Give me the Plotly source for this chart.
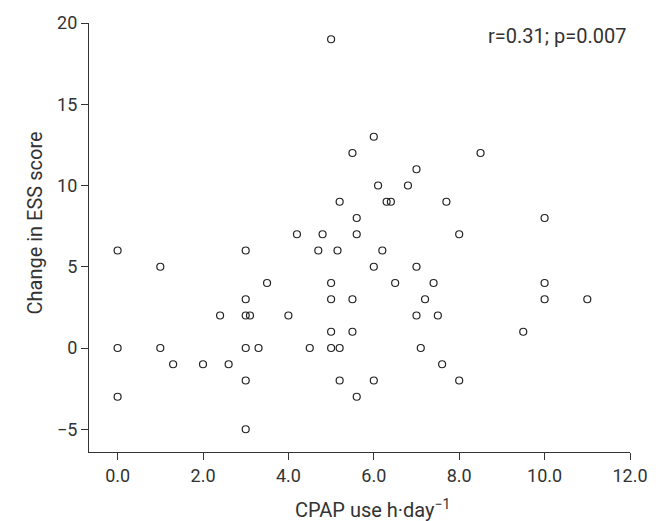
import plotly.graph_objects as go

cpap_use = [5, 6, 5.5, 8.5, 7, 6.1, 6.8, 5.2, 6.3, 6.4, 7.7, 5.6, 10,
            4.2, 4.8, 5.6, 8, 0, 3, 4.7, 5.15, 6.2, 1, 6, 7,
            3.5, 5, 6.5, 7.4, 10, 3, 5, 5.5, 7.2, 10, 11,
            2.4, 3, 3.1, 4, 7, 7.5, 5, 5.5, 9.5,
            0, 1, 3, 3.3, 4.5, 5, 5.2, 7.1,
            1.3, 2, 2.6, 7.6, 3, 5.2, 6, 8, 0, 5.6, 3]
ess_change = [19, 13, 12, 12, 11, 10, 10, 9, 9, 9, 9, 8, 8,
              7, 7, 7, 7, 6, 6, 6, 6, 6, 5, 5, 5,
              4, 4, 4, 4, 4, 3, 3, 3, 3, 3, 3,
              2, 2, 2, 2, 2, 2, 1, 1, 1,
              0, 0, 0, 0, 0, 0, 0, 0,
              -1, -1, -1, -1, -2, -2, -2, -2, -3, -3, -5]

x_ticks = [0, 2, 4, 6, 8, 10, 12]
x_tick_labels = ["0.0", "2.0", "4.0", "6.0", "8.0", "10.0", "12.0"]
y_ticks = [-5, 0, 5, 10, 15, 20]
y_tick_labels = ["\u22125", "0", "5", "10", "15", "20"]

FONT = "Roboto, sans-serif"
TXT = "#333333"

fig = go.Figure()
fig.add_trace(go.Scatter(
    x=cpap_use, y=ess_change, mode="markers",
    marker=dict(symbol="circle-open", size=7, color="#222222",
                line=dict(width=1.2, color="#222222")),
    showlegend=False, hoverinfo="x+y",
))

axis_common = dict(
    showgrid=False, zeroline=False, showline=True, linecolor="#333333",
    linewidth=1.2, ticks="outside", ticklen=7, tickwidth=1.2,
    tickcolor="#333333", tickfont=dict(family=FONT, size=18, color=TXT),
    mirror=False,
)

fig.update_xaxes(range=[-0.67, 12], tickvals=x_ticks, ticktext=x_tick_labels,
                 **axis_common)
fig.update_yaxes(range=[-6.4, 20], tickvals=y_ticks, ticktext=y_tick_labels,
                 **axis_common)

fig.add_annotation(x=1.0, y=1.0, xref="paper", yref="paper",
                   xanchor="right", yanchor="middle", xshift=-2, yshift=-13,
                   text="r=0.31; p=0.007", showarrow=False,
                   font=dict(family=FONT, size=20, color=TXT))
fig.add_annotation(x=0.5, y=0, xref="paper", yref="paper",
                   xanchor="center", yanchor="middle", xshift=13, yshift=-57,
                   text="CPAP use h\u00b7day<sup>\u22121</sup>", showarrow=False,
                   font=dict(family=FONT, size=20, color=TXT))
fig.add_annotation(x=0, y=0.5, xref="paper", yref="paper",
                   xanchor="center", yanchor="middle", xshift=-55, yshift=14,
                   text="Change in ESS score", textangle=-90, showarrow=False,
                   font=dict(family=FONT, size=20, color=TXT))

fig.update_layout(
    width=664, height=521,
    margin=dict(l=89, r=34, t=17, b=69),
    paper_bgcolor="white", plot_bgcolor="white",
    font=dict(family=FONT, size=18, color=TXT),
)

fig.write_html("out.html",
               config={"displayModeBar": False},
               post_script="document.body.style.margin='0';")
